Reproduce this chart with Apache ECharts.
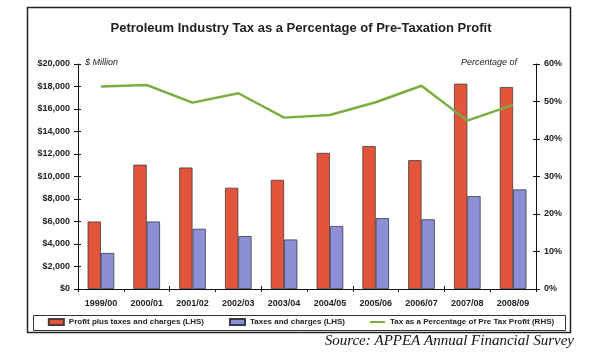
<!DOCTYPE html>
<html>
<head>
<meta charset="utf-8">
<script src="https://cdn.jsdelivr.net/npm/echarts@6/dist/echarts.min.js"></script>
<style>
html,body{margin:0;padding:0;background:#fff;}
#chart{width:602px;height:358px;}
</style>
</head>
<body>
<div id="chart"></div>
<script>
const categories = ['1999/00','2000/01','2001/02','2002/03','2003/04','2004/05','2005/06','2006/07','2007/08','2008/09'];
const profitPlusTaxes = [6000, 11050, 10800, 9000, 9700, 12100, 12700, 11450, 18250, 17950];
const taxesAndCharges = [3200, 6000, 5350, 4700, 4400, 5600, 6300, 6200, 8250, 8850];
const taxPercentage = [54.0, 54.4, 49.7, 52.2, 45.7, 46.4, 49.8, 54.2, 44.9, 49.1];
const leftTickLabels = ['$0','$2,000','$4,000','$6,000','$8,000','$10,000','$12,000','$14,000','$16,000','$18,000','$20,000'];
const rightTickLabels = ['0%','10%','20%','30%','40%','50%','60%'];
const seriesNames = ['Profit plus taxes and charges (LHS)','Taxes and charges (LHS)','Tax as a Percentage of Pre Tax Profit (RHS)'];

const FONT = '"Liberation Sans", Arial, sans-serif';
const chart = echarts.init(document.getElementById('chart'), null, {renderer:'canvas'});

const tickStyle = {color:'#111', width:1};
const baseY = (pos, max, interval, labels, step) => ({
  type:'value', position:pos, min:0, max:max, interval:interval,
  splitLine:{show:false},
  axisLine:{show:true, lineStyle:{color:'#111', width:1}},
  axisTick:{show:true, inside:false, length:4, lineStyle:tickStyle},
  axisLabel:{show:true, margin:8, fontFamily:FONT, fontSize:9, fontWeight:'bold', color:'#222',
    formatter:(v)=>labels[Math.round(v/step)]}
});
const ghostY = (pos, max, interval) => ({
  type:'value', position:pos, min:0, max:max, interval:interval,
  splitLine:{show:false}, axisLine:{show:false},
  axisTick:{show:true, inside:true, length:3, lineStyle:tickStyle},
  axisLabel:{show:false}
});

chart.setOption({
  backgroundColor:'#fff',
  animation:false,
  title:{
    text:'Petroleum Industry Tax as a Percentage of Pre-Taxation Profit',
    left:'center', top:22, padding:0,
    textStyle:{fontFamily:FONT, fontSize:13, fontWeight:'bold', color:'#222'}
  },
  grid:{left:78, right:66, top:64, bottom:69, containLabel:false},
  legend:{
    top:318, left:'center', padding:0, itemGap:25, itemWidth:15, itemHeight:6,
    symbolKeepAspect:true,
    textStyle:{fontFamily:FONT, fontSize:8, fontWeight:'bold', color:'#222'},
    data:[
      {name:seriesNames[0], icon:'rect'},
      {name:seriesNames[1], icon:'rect'},
      {name:seriesNames[2], icon:'path://M0,0H30V4H0Z', itemStyle:{color:'#7cad3f'}}
    ]
  },
  xAxis:[{
    type:'category', data:categories, boundaryGap:true,
    axisLine:{show:true, lineStyle:{color:'#111', width:1}},
    axisTick:{show:true, inside:false, length:3, lineStyle:tickStyle},
    axisLabel:{margin:10, fontFamily:FONT, fontSize:9, fontWeight:'bold', color:'#222'}
  },{
    type:'category', data:categories, boundaryGap:true, position:'bottom',
    axisLine:{show:false},
    axisTick:{show:true, inside:true, length:3, lineStyle:tickStyle},
    axisLabel:{show:false}
  }],
  yAxis:[
    baseY('left', 20000, 2000, leftTickLabels, 2000),
    baseY('right', 60, 10, rightTickLabels, 10),
    ghostY('left', 20000, 2000),
    ghostY('right', 60, 10)
  ],
  series:[
    {name:seriesNames[0], type:'bar', data:profitPlusTaxes, xAxisIndex:0, yAxisIndex:0,
      barWidth:13.3, barGap:'0%',
      itemStyle:{color:'#e2553b', borderColor:'#4a3a3a', borderWidth:0.8}},
    {name:seriesNames[1], type:'bar', data:taxesAndCharges, xAxisIndex:0, yAxisIndex:0,
      barWidth:13.3, barGap:'0%',
      itemStyle:{color:'#8d8fd6', borderColor:'#3a3a4a', borderWidth:0.8}},
    {name:seriesNames[2], type:'line', data:taxPercentage, xAxisIndex:0, yAxisIndex:1,
      symbol:'none', showSymbol:false,
      lineStyle:{color:'#7cad3f', width:2.5}, itemStyle:{color:'#7cad3f'}}
  ],
  graphic:[
    {type:'rect', shape:{x:27.5, y:7.5, width:543, height:325}, style:{fill:'none', stroke:'#222', lineWidth:1.5}, z:-1},
    {type:'rect', shape:{x:33.5, y:315.5, width:532, height:15}, style:{fill:'none', stroke:'#333', lineWidth:1}},
    {type:'text', left:85, top:58, style:{text:'$ Million', font:'italic 9px "Liberation Sans", Arial, sans-serif', fill:'#222'}},
    {type:'text', right:85, top:58, style:{text:'Percentage of', font:'italic 9px "Liberation Sans", Arial, sans-serif', fill:'#222'}},
    {type:'text', right:28, top:334, style:{text:'Source: APPEA Annual Financial Survey', font:'italic 15px "Liberation Serif", "Times New Roman", serif', fill:'#111'}}
  ]
});
</script>
</body>
</html>
